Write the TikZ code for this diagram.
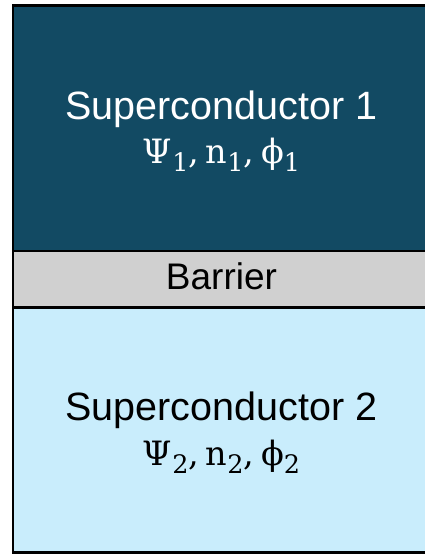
\documentclass[tikz,border=0pt]{standalone}
\usepackage{fontspec}
\setmainfont{Liberation Sans}
\newfontfamily\greekfont{DejaVu Serif}
\usepackage{graphicx}
\usepackage{tikz}
\definecolor{scdark}{HTML}{124A63}
\definecolor{sclight}{HTML}{C9EDFC}
\definecolor{bargray}{HTML}{D0D0D0}
\newcommand{\lowidx}[1]{\raisebox{-0.25em}{\scalebox{0.76}{#1}}}
\newcommand{\sep}{,\hspace{0.2em}}

\begin{document}
\begin{tikzpicture}[x=1pt,y=-1pt,
  layertext/.style={anchor=base,inner sep=0pt,font=\fontsize{39.5}{44}\selectfont},
  symtext/.style={anchor=base,inner sep=0pt,font=\greekfont\fontsize{33.5}{38}\selectfont}]
\useasboundingbox (0,0) rectangle (425,555);
\begin{scope}
\clip (0,0) rectangle (425,555);
\filldraw[fill=scdark,line width=2.5pt] (13,5.5) rectangle (433,251);
\filldraw[fill=bargray,line width=2.5pt] (13,251) rectangle (433,307.5);
\filldraw[fill=sclight,line width=2.5pt] (13,307.5) rectangle (433,552.5);
\end{scope}
% upper electrode
\node[layertext,text=white] (sc1) at (221.5,119) {Superconductor 1};
\node[symtext,text=white] (sc1vars) at (221.5,163) {Ψ\lowidx{1}\sep n\lowidx{1}\sep ϕ\lowidx{1}};
% insulating layer
\node[layertext,font=\fontsize{37}{42}\selectfont] (bar) at (221.5,289) {Barrier};
% lower electrode
\node[layertext] (sc2) at (221.5,420) {Superconductor 2};
\node[symtext] (sc2vars) at (221.5,465) {Ψ\lowidx{2}\sep n\lowidx{2}\sep ϕ\lowidx{2}};
\end{tikzpicture}
\end{document}
